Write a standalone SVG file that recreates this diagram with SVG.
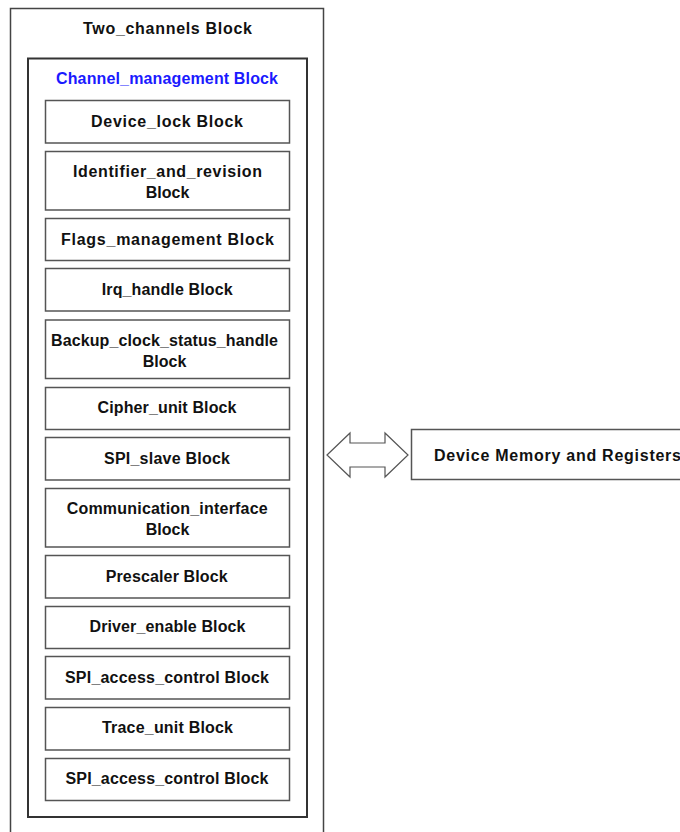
<svg xmlns="http://www.w3.org/2000/svg" width="680" height="832" viewBox="0 0 680 832">
<style>
  .t { font-family: "Liberation Sans", Arial, sans-serif; font-weight: bold; font-size: 16px; fill: #111; text-anchor: middle; }
  .blue { fill: #1a1aff; }
  .outer { fill: #fff; stroke: #444; stroke-width: 1.5; }
  .inner { fill: #fff; stroke: #333; stroke-width: 2; }
  .box { fill: #fff; stroke: #555; stroke-width: 1.5; }
  .arrow { fill: #fff; stroke: #555; stroke-width: 1.2; }
</style>
<rect width="680" height="832" fill="#fff"/>
<g id="two_channels">
  <rect class="outer" x="10.5" y="8.5" width="313" height="840"/>
  <text class="t" x="167.5" y="34" textLength="169" lengthAdjust="spacing">Two_channels Block</text>
</g>
<g id="channel_management">
  <rect class="inner" x="28" y="58.5" width="279" height="758.5"/>
  <text class="t blue" x="167" y="84" textLength="222" lengthAdjust="spacing">Channel_management Block</text>
</g>
<g id="device_lock">
  <rect class="box" x="45.5" y="100.5" width="244" height="42.5"/>
  <text class="t" x="167" y="127" textLength="152" lengthAdjust="spacing">Device_lock Block</text>
</g>
<g id="identifier_and_revision">
  <rect class="box" x="45.5" y="151.5" width="244" height="58.5"/>
  <text class="t" x="167.5" y="177" textLength="189" lengthAdjust="spacing">Identifier_and_revision</text>
  <text class="t" x="167.5" y="198">Block</text>
</g>
<g id="flags_management">
  <rect class="box" x="45.5" y="218.5" width="244" height="42"/>
  <text class="t" x="167.5" y="245" textLength="213" lengthAdjust="spacing">Flags_management Block</text>
</g>
<g id="irq_handle">
  <rect class="box" x="45.5" y="268.5" width="244" height="42.5"/>
  <text class="t" x="167.2" y="295" textLength="131" lengthAdjust="spacing">Irq_handle Block</text>
</g>
<g id="backup_clock_status_handle">
  <rect class="box" x="45.5" y="320" width="244" height="58.5"/>
  <text class="t" x="164.5" y="346" textLength="227" lengthAdjust="spacing">Backup_clock_status_handle</text>
  <text class="t" x="164.5" y="367">Block</text>
</g>
<g id="cipher_unit">
  <rect class="box" x="45.5" y="387.5" width="244" height="42"/>
  <text class="t" x="167" y="413" textLength="139" lengthAdjust="spacing">Cipher_unit Block</text>
</g>
<g id="spi_slave">
  <rect class="box" x="45.5" y="437.5" width="244" height="42.5"/>
  <text class="t" x="167" y="464" textLength="126" lengthAdjust="spacing">SPI_slave Block</text>
</g>
<g id="communication_interface">
  <rect class="box" x="45.5" y="488.5" width="244" height="58.5"/>
  <text class="t" x="167.2" y="514" textLength="201" lengthAdjust="spacing">Communication_interface</text>
  <text class="t" x="167.5" y="535">Block</text>
</g>
<g id="prescaler">
  <rect class="box" x="45.5" y="555.5" width="244" height="42.5"/>
  <text class="t" x="166.7" y="582" textLength="122" lengthAdjust="spacing">Prescaler Block</text>
</g>
<g id="driver_enable">
  <rect class="box" x="45.5" y="606.5" width="244" height="42"/>
  <text class="t" x="167.5" y="632" textLength="156" lengthAdjust="spacing">Driver_enable Block</text>
</g>
<g id="spi_access_control_1">
  <rect class="box" x="45.5" y="656.5" width="244" height="42.5"/>
  <text class="t" x="167" y="683" textLength="204" lengthAdjust="spacing">SPI_access_control Block</text>
</g>
<g id="trace_unit">
  <rect class="box" x="45.5" y="707.5" width="244" height="42.5"/>
  <text class="t" x="167.5" y="733" textLength="131" lengthAdjust="spacing">Trace_unit Block</text>
</g>
<g id="spi_access_control_2">
  <rect class="box" x="45.5" y="758.5" width="244" height="42"/>
  <text class="t" x="167" y="784" textLength="203" lengthAdjust="spacing">SPI_access_control Block</text>
</g>
<g id="device_memory">
  <rect class="box" x="411.5" y="429.5" width="300" height="50"/>
  <text class="t" x="434" y="461" style="text-anchor:start" textLength="247" lengthAdjust="spacing">Device Memory and Registers</text>
</g>
<g id="connectors">
  <polygon class="arrow" points="327,455 350,433 350,443 385,443 385,433 408,455 385,477 385,467 350,467 350,477"/>
</g>
</svg>
